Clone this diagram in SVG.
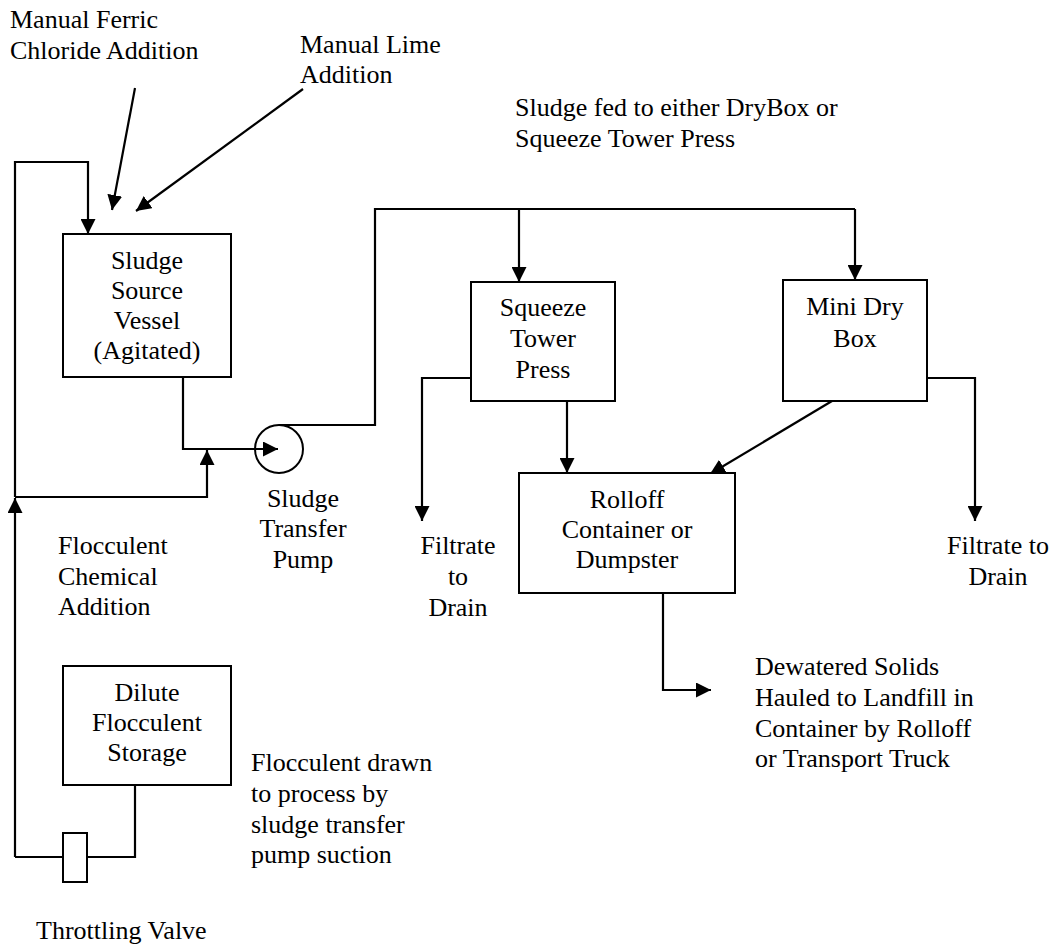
<svg xmlns="http://www.w3.org/2000/svg" width="1057" height="948" viewBox="0 0 1057 948">
<style>
text{font-family:"Liberation Serif","Times New Roman",serif;font-size:26px;fill:#000}
.c{text-anchor:middle}
.box{fill:#fff;stroke:#000;stroke-width:2}
.ln{fill:none;stroke:#000;stroke-width:2.2}
.ar{marker-end:url(#ah)}
</style>
<defs>
<marker id="ah" viewBox="0 0 15 15" refX="15" refY="7.5" markerWidth="15" markerHeight="15" markerUnits="userSpaceOnUse" orient="auto">
<path d="M0,0 L15,7.5 L0,15 z" fill="#000"/>
</marker>
</defs>
<rect width="1057" height="948" fill="#fff"/>
<g id="connectors">
<path class="ln ar" d="M135,88 L112,210"/>
<path class="ln ar" d="M303,89 L136,211"/>
<path class="ln ar" d="M15,497 L15,162 L88,162 L88,234"/>
<path class="ln ar" d="M183,377 L183,449 L278,449"/>
<path class="ln ar" d="M15,497 L207,497 L207,450"/>
<path class="ln ar" d="M15,857 L15,498"/>
<path class="ln" d="M15,857 L135,857 L135,785"/>
<path class="ln" d="M279,425 L375,425 L375,209 L855,209"/>
<path class="ln ar" d="M519,209 L519,282"/>
<path class="ln ar" d="M855,209 L855,280"/>
<path class="ln ar" d="M471,378 L422,378 L422,521"/>
<path class="ln ar" d="M927,378 L975,378 L975,521"/>
<path class="ln ar" d="M567,401 L567,473"/>
<path class="ln ar" d="M832,401 L710,474"/>
<path class="ln ar" d="M663,593 L663,690 L711,690"/>
</g>
<g id="sludge-source-vessel">
<rect class="box" x="63" y="234" width="168" height="143"/>
<text class="c" x="147" y="269">Sludge</text>
<text class="c" x="147" y="299">Source</text>
<text class="c" x="147" y="329">Vessel</text>
<text class="c" x="147" y="359">(Agitated)</text>
</g>
<g id="sludge-transfer-pump">
<circle cx="279" cy="449" r="24" fill="none" stroke="#000" stroke-width="2"/>
<text class="c" x="303" y="507">Sludge</text>
<text class="c" x="303" y="537">Transfer</text>
<text class="c" x="303" y="568">Pump</text>
</g>
<g id="squeeze-tower-press">
<rect class="box" x="471" y="282" width="144" height="119"/>
<text class="c" x="543" y="316">Squeeze</text>
<text class="c" x="543" y="347">Tower</text>
<text class="c" x="543" y="378">Press</text>
</g>
<g id="mini-dry-box">
<rect class="box" x="783" y="280" width="144" height="121"/>
<text class="c" x="855" y="315">Mini Dry</text>
<text class="c" x="855" y="347">Box</text>
</g>
<g id="rolloff-container">
<rect class="box" x="519" y="473" width="216" height="120"/>
<text class="c" x="627" y="508">Rolloff</text>
<text class="c" x="627" y="538">Container or</text>
<text class="c" x="627" y="568">Dumpster</text>
</g>
<g id="dilute-flocculent-storage">
<rect class="box" x="63" y="666" width="168" height="119"/>
<text class="c" x="147" y="701">Dilute</text>
<text class="c" x="147" y="731">Flocculent</text>
<text class="c" x="147" y="761">Storage</text>
</g>
<g id="throttling-valve">
<rect class="box" x="63" y="833" width="24" height="49"/>
<text x="36" y="939">Throttling Valve</text>
</g>
<g id="labels">
<text x="10" y="28">Manual Ferric</text>
<text x="10" y="59">Chloride Addition</text>
<text x="300" y="53">Manual Lime</text>
<text x="300" y="83">Addition</text>
<text x="515" y="116">Sludge fed to either DryBox or</text>
<text x="515" y="147">Squeeze Tower Press</text>
<text x="58" y="554">Flocculent</text>
<text x="58" y="585">Chemical</text>
<text x="58" y="615">Addition</text>
<text class="c" x="458" y="554">Filtrate</text>
<text class="c" x="458" y="585">to</text>
<text class="c" x="458" y="616">Drain</text>
<text class="c" x="998" y="554">Filtrate to</text>
<text class="c" x="998" y="585">Drain</text>
<text x="755" y="675">Dewatered Solids</text>
<text x="755" y="706">Hauled to Landfill in</text>
<text x="755" y="737">Container by Rolloff</text>
<text x="755" y="767">or Transport Truck</text>
<text x="251" y="771">Flocculent drawn</text>
<text x="251" y="802">to process by</text>
<text x="251" y="833">sludge transfer</text>
<text x="251" y="863">pump suction</text>
</g>
</svg>
